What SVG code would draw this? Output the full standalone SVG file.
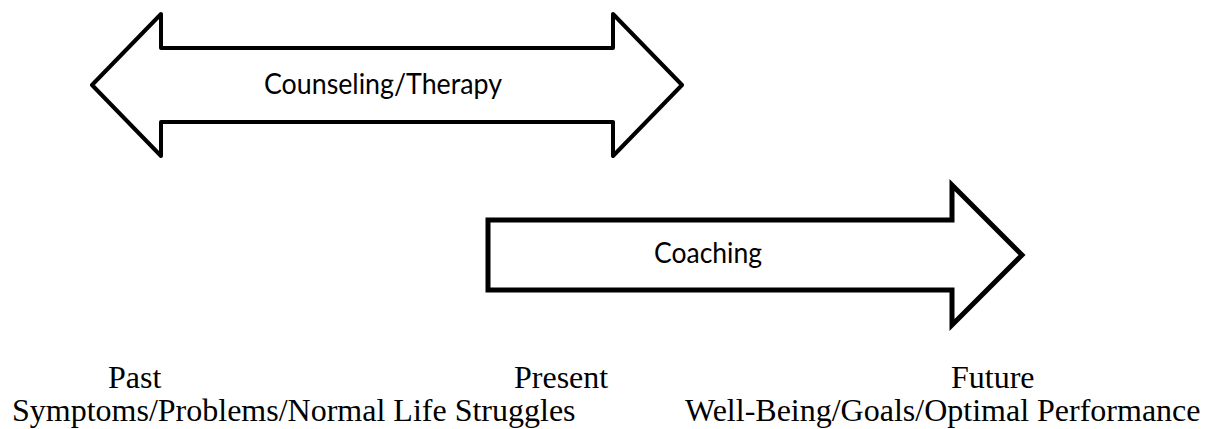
<svg xmlns="http://www.w3.org/2000/svg" width="1207" height="429" viewBox="0 0 1207 429">
  <style>
    .arrow { fill: #ffffff; stroke: #000000; }
    .lbl { font-family: Lato, "Open Sans", "Liberation Sans", sans-serif; font-size: 28px; fill: #000000; text-anchor: middle; }
    .tl { font-family: "Liberation Serif", "Times New Roman", serif; font-size: 32px; fill: #000000; }
  </style>
  <rect width="1207" height="429" fill="#ffffff"/>
  <g id="connectors">
    <g id="counseling-therapy">
      <polygon class="arrow" stroke-width="4" stroke-linejoin="round" points="92,85 161,14 161,48 613,48 613,14 682,85 613,156 613,122 161,122 161,156"/>
      <text class="lbl" x="383" y="94" textLength="238" lengthAdjust="spacingAndGlyphs">Counseling/Therapy</text>
    </g>
    <g id="coaching">
      <polygon class="arrow" stroke-width="5" stroke-linejoin="miter" points="488,220 952,220 952,185 1022,255 952,325 952,290 488,290"/>
      <text class="lbl" x="708" y="263" textLength="108" lengthAdjust="spacingAndGlyphs">Coaching</text>
    </g>
  </g>
  <g id="timeline">
    <g id="past">
      <text class="tl" x="108" y="388">Past</text>
      <text class="tl" x="12" y="421">Symptoms/Problems/Normal Life Struggles</text>
    </g>
    <g id="present">
      <text class="tl" x="514" y="388">Present</text>
    </g>
    <g id="future">
      <text class="tl" x="951" y="388">Future</text>
      <text class="tl" x="685" y="421">Well-Being/Goals/Optimal Performance</text>
    </g>
  </g>
</svg>
